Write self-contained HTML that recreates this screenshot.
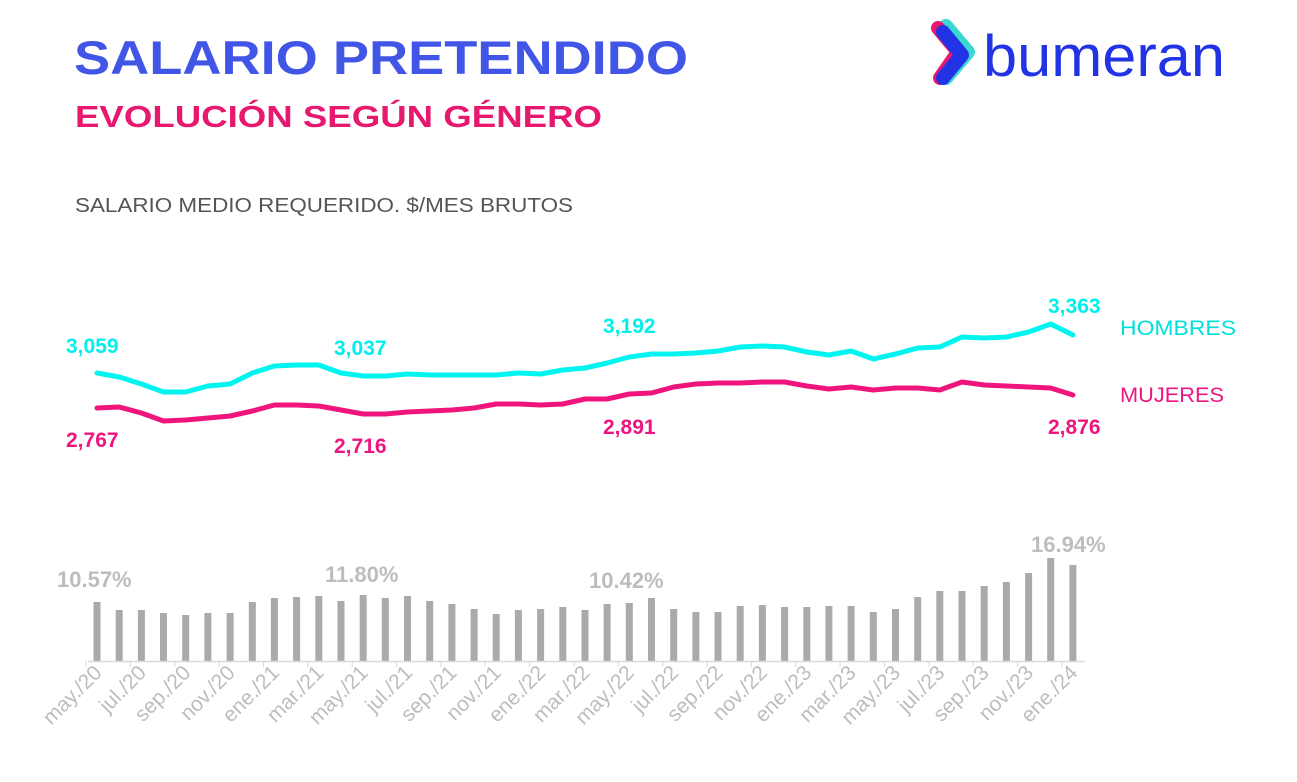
<!DOCTYPE html>
<html><head><meta charset="utf-8"><style>
html,body{margin:0;padding:0;background:#fff;}
body{width:1297px;height:777px;overflow:hidden;font-family:"Liberation Sans",sans-serif;}
</style></head><body>
<svg width="1297" height="777" viewBox="0 0 1297 777" xmlns="http://www.w3.org/2000/svg" font-family="Liberation Sans, sans-serif">
<text x="74" y="74" font-size="47" font-weight="bold" fill="#4155e6" textLength="614" lengthAdjust="spacingAndGlyphs">SALARIO PRETENDIDO</text>
<text x="75" y="127" font-size="31" font-weight="bold" fill="#e8186f" textLength="527" lengthAdjust="spacingAndGlyphs">EVOLUCIÓN SEGÚN GÉNERO</text>
<text x="75" y="212" font-size="20" fill="#555" textLength="498" lengthAdjust="spacingAndGlyphs">SALARIO MEDIO REQUERIDO. $/MES BRUTOS</text>
<!-- logo -->
<g stroke-linecap="round" stroke-linejoin="round" fill="none" stroke-width="14">
<polyline points="946,26 968,52 946,78" stroke="#39d8d0"/>
<polyline points="938,28 958,52 940,78" stroke="#e8186f"/>
<polyline points="943,32 962,55 943,78" stroke="#2233e6"/>
</g>
<text x="983" y="76" font-size="58" fill="#2233e6" textLength="242" lengthAdjust="spacingAndGlyphs">bumeran</text>
<g id="chart"></g>
</svg>
<script>
const H=[373,377,384,392,392,386,384,373,366,365,365,373,376,376,374,375,375,375,375,373,374,370,368,363,357,354,354,353,351,347,346,347,352,355,351,359,354,348,347,337,338,337,332,324,335];
const M=[408,407,413,421,420,418,416,411,405,405,406,410,414,414,412,411,410,408,404,404,405,404,399,399,394,393,387,384,383,383,382,382,386,389,387,390,388,388,390,382,385,386,387,388,395];
const B=[602,610,610,613,615,613,613,602,598,597,596,601,595,598,596,601,604,609,614,610,609,607,610,604,603,598,609,612,612,606,605,607,607,606,606,612,609,597,591,591,586,582,573,558,565];
const X=i=>97+i*22.18;
let s='';
s+=`<polyline fill="none" stroke="#00f5f0" stroke-width="5" stroke-linejoin="round" stroke-linecap="round" points="${H.map((y,i)=>X(i).toFixed(1)+','+y).join(' ')}"/>`;
s+=`<polyline fill="none" stroke="#f0157c" stroke-width="5" stroke-linejoin="round" stroke-linecap="round" points="${M.map((y,i)=>X(i).toFixed(1)+','+y).join(' ')}"/>`;
B.forEach((y,i)=>{s+=`<rect x="${(X(i)-3.5).toFixed(1)}" y="${y}" width="7" height="${661-y}" fill="#aaa"/>`;});
s+=`<line x1="88" y1="661.5" x2="1085" y2="661.5" stroke="#d9d9d9" stroke-width="1.5"/>`;
for(let i=0;i<=45;i+=2){const x=X(i)-11;s+=`<line x1="${x}" y1="661" x2="${x}" y2="667" stroke="#d9d9d9"/>`;}
const yrs=[20,20,20,20,21,21,21,21,21,21,22,22,22,22,22,22,23,23,23,23,23,23,24];
for(let k=0;k<23;k++){const i=k*2;const m=["may.","jul.","sep.","nov.","ene.","mar."][(k)%6];const x=X(i)+6,y=674;
s+=`<text x="${x}" y="${y}" font-size="21" fill="#bdbdbd" text-anchor="end" transform="rotate(-45 ${x} ${y})">${m}/${yrs[k]}</text>`;}
const t=(x,y,c,txt,sz,a)=>s+=`<text x="${x}" y="${y}" font-size="${sz||21}" font-weight="bold" fill="${c}" text-anchor="${a||'start'}">${txt}</text>`;
t(66,353,"#00f0ee","3,059");t(334,355,"#00f0ee","3,037");t(603,333,"#00f0ee","3,192");t(1048,313,"#00f0ee","3,363");
t(66,447,"#ee1580","2,767");t(334,453,"#ee1580","2,716");t(603,434,"#ee1580","2,891");t(1048,434,"#ee1580","2,876");
s+=`<text x="1120" y="335" font-size="21" fill="#00e0dc" textLength="116" lengthAdjust="spacingAndGlyphs">HOMBRES</text><text x="1120" y="402" font-size="21" fill="#ee1580" textLength="104" lengthAdjust="spacingAndGlyphs">MUJERES</text>`;
t(57,587,"#bdbdbd","10.57%",22);t(325,582,"#bdbdbd","11.80%",22);t(589,588,"#bdbdbd","10.42%",22);t(1031,552,"#bdbdbd","16.94%",22);
document.getElementById('chart').innerHTML=s;
</script>
</body></html>
